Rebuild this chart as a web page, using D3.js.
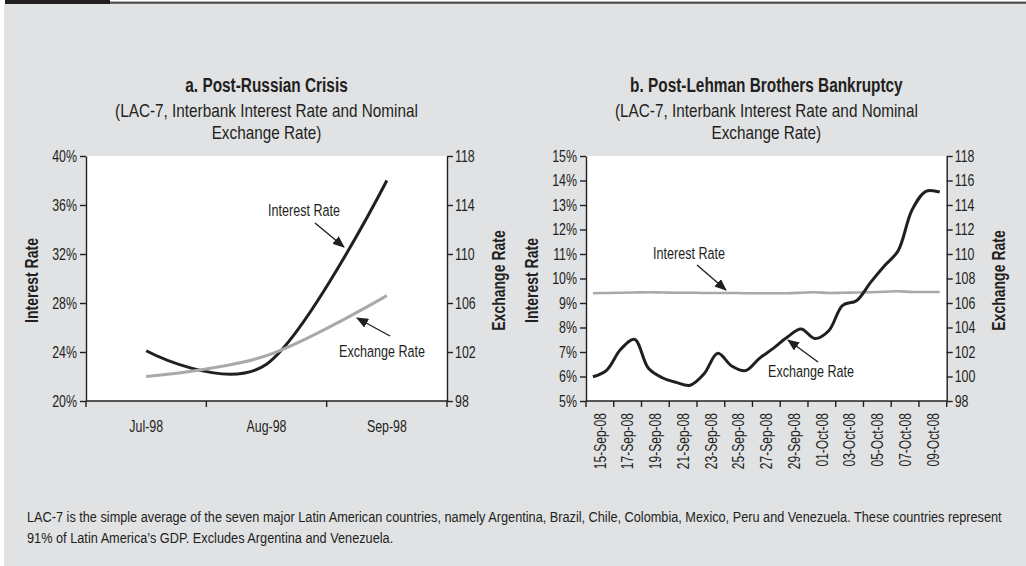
<html>
<head>
<script src="https://cdn.jsdelivr.net/npm/d3@7"></script>
<style>
  body { margin: 0; background: #fff; }
  svg text { font-family: "Liberation Sans", Arial, sans-serif; fill: #231f20; }
</style>
</head>
<body>
<svg id="chart" width="1026" height="566"></svg>
<script>
// ---- data: panel a (monthly) ----
const monthsA = ['Jul-98', 'Aug-98', 'Sep-98']
const interestA = [24.1, 23.0, 38.0]          // % (left axis)
const exchangeA = [100.0, 101.7, 106.6]       // index (right axis)
const pctTicksA = [20, 24, 28, 32, 36, 40]
const fxTicksA = [98, 102, 106, 110, 114, 118]

// ---- data: panel b (daily) ----
const datesB = ['15-Sep-08', '16-Sep-08', '17-Sep-08', '18-Sep-08', '19-Sep-08', '20-Sep-08', '21-Sep-08',
  '22-Sep-08', '23-Sep-08', '24-Sep-08', '25-Sep-08', '26-Sep-08', '27-Sep-08', '28-Sep-08', '29-Sep-08',
  '30-Sep-08', '01-Oct-08', '02-Oct-08', '03-Oct-08', '04-Oct-08', '05-Oct-08', '06-Oct-08', '07-Oct-08',
  '08-Oct-08', '09-Oct-08', '10-Oct-08']
const interestB = [9.40, 9.41, 9.42, 9.43, 9.44, 9.43, 9.42, 9.42, 9.41, 9.41, 9.41, 9.40, 9.40, 9.40, 9.40,
  9.42, 9.44, 9.41, 9.42, 9.43, 9.44, 9.46, 9.48, 9.45, 9.45, 9.45]
const exchangeB = [99.98, 100.53, 102.22, 103.03, 100.67, 99.90, 99.52, 99.28, 100.2, 101.89, 100.86, 100.48,
  101.48, 102.3, 103.2, 103.88, 103.1, 103.74, 105.81, 106.19, 107.66, 109.02, 110.27, 113.59, 115.12, 115.06]
const tickLabelsB = datesB.filter((d, i) => i % 2 === 0)
const pctTicksB = [5, 6, 7, 8, 9, 10, 11, 12, 13, 14, 15]
const fxTicksB = [98, 100, 102, 104, 106, 108, 110, 112, 114, 116, 118]

const footnote = [
  'LAC-7 is the simple average of the seven major Latin American countries, namely Argentina, Brazil, Chile, Colombia, Mexico, Peru and Venezuela. These countries represent',
  '91% of Latin America\u2019s GDP. Excludes Argentina and Venezuela.'
]

const ink = '#231f20'
const grey = '#a7a9ac'
const narrow = 0.75   // horizontal squeeze to mimic a condensed face

const svg = d3.select('#chart')

// text helper: placed with a transform so it can be squeezed horizontally
const addText = (parent, x, y, str, o = {}) => {
  const t = parent.append('text')
    .attr('text-anchor', o.anchor || 'start')
    .style('font-size', (o.size || 16.5) + 'px')
    .style('font-weight', o.bold ? 'bold' : 'normal')
    .text(str)
  if (o.dy) t.attr('dy', o.dy)
  let sx = o.sx || narrow
  if (o.width) sx = o.width / t.node().getComputedTextLength()
  t.attr('transform', `translate(${x},${y})${o.rotate ? ' rotate(' + o.rotate + ')' : ''} scale(${sx},1)`)
  return t
}

// squeeze the tick labels an axis generator has made
const squeezeTicks = (g) => {
  g.selectAll('.tick text').each(function() {
    const t = d3.select(this)
    const x = +t.attr('x') || 0
    t.attr('x', 0).attr('transform', `translate(${x},0) scale(${narrow},1)`)
  })
}

// background panel + top rule
svg.append('rect').attr('x', 4).attr('y', 4).attr('width', 1022).attr('height', 562).attr('fill', '#e1e2e4')
svg.append('rect').attr('x', 5).attr('y', 0).attr('width', 105).attr('height', 4).attr('fill', ink)
svg.append('rect').attr('x', 110).attr('y', 1.6).attr('width', 916).attr('height', 2.2).attr('fill', '#4a4a4c')

// arrow marker
svg.append('defs').append('marker')
  .attr('id', 'arrow')
  .attr('markerUnits', 'userSpaceOnUse')
  .attr('markerWidth', 12).attr('markerHeight', 10)
  .attr('refX', 11).attr('refY', 5)
  .attr('orient', 'auto')
  .append('path').attr('d', 'M0,0 L12,5 L0,10 Z').attr('fill', ink)

const styleAxis = (g) => {
  g.select('.domain').attr('stroke', ink).attr('stroke-width', 1.4)
  g.selectAll('.tick line').attr('stroke', ink).attr('stroke-width', 1.4)
  g.selectAll('.tick text').style('font-size', '16.5px').attr('fill', ink)
  squeezeTicks(g)
}

const drawPanel = (p) => {
  const g = svg.append('g')
  const top = 156, bottom = 401

  const x = d3.scaleBand().domain(p.categories).range([p.left, p.right])
  const yL = d3.scaleLinear().domain(p.leftDomain).range([bottom, top])
  const yR = d3.scaleLinear().domain(p.rightDomain).range([bottom, top])

  g.append('rect')
    .attr('x', p.left).attr('y', top)
    .attr('width', p.right - p.left).attr('height', bottom - top)
    .attr('fill', '#fff')

  // lines
  const cxOf = (d, i) => x(p.categories[i]) + x.bandwidth() / 2
  const lineL = d3.line().x(cxOf).y(d => yL(d)).curve(p.curve)
  const lineR = d3.line().x(cxOf).y(d => yR(d)).curve(p.curve)

  g.append('path').datum(p.leftValues)
    .attr('d', lineL).attr('fill', 'none')
    .attr('stroke', p.leftColor).attr('stroke-width', p.leftWidth).attr('stroke-linejoin', 'round')
  g.append('path').datum(p.rightValues)
    .attr('d', lineR).attr('fill', 'none')
    .attr('stroke', p.rightColor).attr('stroke-width', p.rightWidth).attr('stroke-linejoin', 'round')

  // left and right axes
  g.append('g').attr('transform', `translate(${p.left},0)`)
    .call(d3.axisLeft(yL).tickValues(p.leftTicks).tickFormat(d => d + '%').tickSize(6).tickSizeOuter(0).tickPadding(3))
    .call(styleAxis)
  g.append('g').attr('transform', `translate(${p.right},0)`)
    .call(d3.axisRight(yR).tickValues(p.rightTicks).tickSize(6).tickSizeOuter(0).tickPadding(2))
    .call(styleAxis)

  // bottom axis: ticks on group boundaries, labels centred in each group
  const groups = d3.scaleBand().domain(p.tickLabels).range([p.left, p.right])
  g.append('line')
    .attr('x1', p.left).attr('x2', p.right).attr('y1', bottom).attr('y2', bottom)
    .attr('stroke', ink).attr('stroke-width', 1.4)
  const bounds = p.tickLabels.map(d => groups(d)).concat([p.right])
  g.selectAll('.xtick').data(bounds).join('line')
    .attr('class', 'xtick')
    .attr('x1', d => d).attr('x2', d => d)
    .attr('y1', bottom).attr('y2', bottom + 6)
    .attr('stroke', ink).attr('stroke-width', 1.4)

  p.tickLabels.forEach(d => {
    const cx = groups(d) + groups.bandwidth() / 2
    if (p.rotateLabels) {
      addText(g, cx, bottom + 12, d, { anchor: 'end', rotate: -90, dy: '0.35em', sx: 0.73 })
    } else {
      addText(g, cx, bottom + 31, d, { anchor: 'middle' })
    }
  })

  // axis titles
  const mid = (top + bottom) / 2 + 2
  addText(g, p.left - 54, mid, 'Interest Rate', { anchor: 'middle', rotate: -90, dy: '0.35em', size: 18, bold: true, sx: 0.78 })
  addText(g, p.right + 52, mid, 'Exchange Rate', { anchor: 'middle', rotate: -90, dy: '0.35em', size: 18, bold: true, sx: 0.78 })

  // titles
  const cx = (p.left + p.right) / 2
  addText(g, cx, 92, p.title, { anchor: 'middle', size: 20, bold: true, sx: 0.77 })
  addText(g, cx, 117, '(LAC-7, Interbank Interest Rate and Nominal', { anchor: 'middle', size: 18, width: 303 })
  addText(g, cx, 139, 'Exchange Rate)', { anchor: 'middle', size: 18, sx: 0.85 })

  // annotations (offsets from the plot's top-left corner)
  p.notes.forEach(n => {
    addText(g, p.left + n.tx, top + n.ty, n.text, { anchor: 'middle', size: 17, sx: 0.74 })
    g.append('line')
      .attr('x1', p.left + n.ax1).attr('y1', top + n.ay1)
      .attr('x2', p.left + n.ax2).attr('y2', top + n.ay2)
      .attr('stroke', ink).attr('stroke-width', 1.4)
      .attr('marker-end', 'url(#arrow)')
  })
}

drawPanel({
  title: 'a. Post-Russian Crisis',
  left: 86, right: 447,
  categories: monthsA, tickLabels: monthsA,
  leftDomain: [20, 40], rightDomain: [98, 118],
  leftTicks: pctTicksA, rightTicks: fxTicksA,
  leftValues: interestA, rightValues: exchangeA,
  leftColor: ink, rightColor: grey, leftWidth: 3, rightWidth: 3,
  curve: d3.curveCardinal.tension(0),
  rotateLabels: false,
  notes: [
    { text: 'Interest Rate', tx: 218, ty: 60, ax1: 229, ay1: 67, ax2: 258, ay2: 91 },
    { text: 'Exchange Rate', tx: 296, ty: 201, ax1: 304, ay1: 180, ax2: 271, ay2: 162 }
  ]
})

drawPanel({
  title: 'b. Post-Lehman Brothers Bankruptcy',
  left: 586, right: 946.7,
  categories: datesB, tickLabels: tickLabelsB,
  leftDomain: [5, 15], rightDomain: [98, 118],
  leftTicks: pctTicksB, rightTicks: fxTicksB,
  leftValues: interestB, rightValues: exchangeB,
  leftColor: grey, rightColor: ink, leftWidth: 2.6, rightWidth: 3,
  curve: d3.curveCatmullRom,
  rotateLabels: true,
  notes: [
    { text: 'Interest Rate', tx: 103, ty: 103, ax1: 111, ay1: 109, ax2: 140, ay2: 134 },
    { text: 'Exchange Rate', tx: 225, ty: 221, ax1: 232, ay1: 206, ax2: 202, ay2: 184 }
  ]
})

// footnote: first line fitted to the reference width, second line uses the same squeeze
const foot1 = addText(svg, 27, 522, footnote[0], { size: 15, width: 976 })
const footSx = 976 / foot1.node().getComputedTextLength()
addText(svg, 27, 543, footnote[1], { size: 15, sx: footSx })
</script>
</body>
</html>
